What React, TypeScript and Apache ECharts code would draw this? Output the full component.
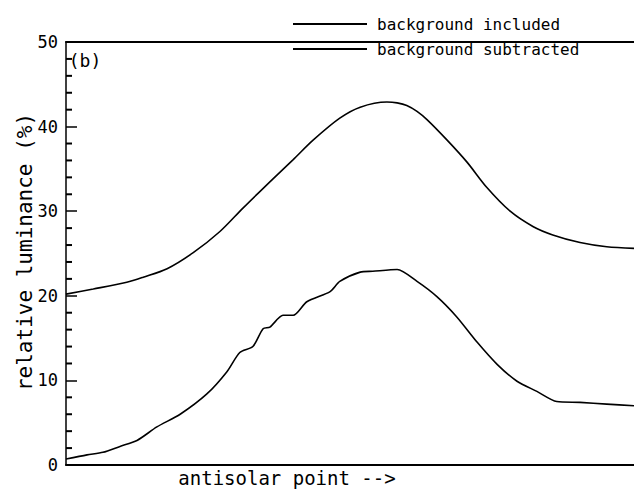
import React, { useEffect, useRef } from "react";
import * as echarts from "echarts";

// position along the scan (arbitrary units, 0 = left edge, 100 = right edge)
const includedX = [0, 4.8, 10.7, 13.6, 17.8, 22.4, 27.1, 31.2, 36.4, 40.0, 43.5, 48.2, 51.8, 56.5, 58.3, 60.0, 61.8, 63.6, 67.1, 70.6, 74.1, 78.2, 82.2, 85.7, 90.5, 95.2, 100];
const includedY = [20.2, 20.8, 21.6, 22.2, 23.2, 25.1, 27.6, 30.4, 33.8, 36.1, 38.4, 41.0, 42.3, 42.9, 42.8, 42.5, 41.8, 40.8, 38.4, 35.8, 32.8, 30.0, 28.2, 27.2, 26.3, 25.8, 25.6];

const subtractedX = [0, 3.7, 6.5, 9.5, 12.5, 16.0, 20.1, 24.8, 28.3, 30.6, 32.9, 34.7, 35.9, 38.2, 40.0, 42.4, 46.5, 48.2, 51.8, 54.0, 58.3, 61.8, 65.3, 68.8, 72.4, 75.9, 79.4, 82.9, 86.4, 90.5, 95.2, 100];
const subtractedY = [0.7, 1.2, 1.5, 2.2, 2.9, 4.5, 6.0, 8.4, 11.0, 13.3, 14.0, 16.1, 16.3, 17.7, 17.7, 19.3, 20.5, 21.7, 22.8, 22.9, 23.1, 21.7, 19.9, 17.5, 14.5, 11.9, 9.9, 8.7, 7.5, 7.4, 7.2, 7.0];

const seriesNames = ["background included", "background subtracted"];
const yTicks = [0, 10, 20, 30, 40, 50];
const yMinorTicks = [2, 4, 6, 8, 12, 14, 16, 18, 22, 24, 26, 28, 32, 34, 36, 38, 42, 44, 46, 48];
const xTitle = "antisolar point -->";
const yTitle = "relative luminance (%)";
const panelLabel = "(b)";

const MONO = "'DejaVu Sans Mono', 'Liberation Mono', monospace";

export default function App() {
  const ref = useRef<HTMLDivElement>(null);
  useEffect(() => {
    if (!ref.current) return;
    const chart = echarts.init(ref.current, null, { renderer: "svg" });
    const pairs = (xs: number[], ys: number[]) => xs.map((x, i) => [x, ys[i]]);
    const yMin = yTicks[0];
    const yMax = yTicks[yTicks.length - 1];
    chart.setOption({
      animation: false,
      backgroundColor: "#ffffff",
      grid: { left: 66, right: 0, top: 42, bottom: 24 },
      legend: {
        left: 288,
        top: 11,
        orient: "vertical",
        icon: "rect",
        itemWidth: 74,
        itemHeight: 2,
        itemGap: 9,
        selectedMode: false,
        data: seriesNames,
        textStyle: { fontFamily: MONO, fontSize: 16, color: "#000", lineHeight: 16, padding: [0, 0, 0, 5] },
      },
      xAxis: [
        {
          type: "value",
          min: 0,
          max: 100,
          position: "bottom",
          axisLine: { show: true, lineStyle: { color: "#000", width: 2 } },
          axisTick: { show: false },
          axisLabel: { show: false },
          splitLine: { show: false },
        },
        {
          type: "value",
          min: 0,
          max: 100,
          position: "top",
          axisLine: { show: true, lineStyle: { color: "#000", width: 2 } },
          axisTick: { show: false },
          axisLabel: { show: false },
          splitLine: { show: false },
        },
      ],
      yAxis: {
        type: "value",
        position: "left",
        min: yMin,
        max: yMax,
        interval: 10,
        axisLine: { show: true, lineStyle: { color: "#000", width: 1.5 } },
        axisTick: { show: true, inside: true, length: 11, lineStyle: { color: "#000", width: 1.5 } },
        axisLabel: { color: "#000", fontFamily: MONO, fontSize: 17, margin: 8 },
        splitLine: { show: false },
      },
      graphic: [
        {
          type: "text",
          x: 287,
          y: 478,
          style: { text: xTitle, fontFamily: MONO, fontSize: 19, fill: "#000", align: "center", verticalAlign: "middle" },
        },
        {
          type: "text",
          x: 25,
          y: 252,
          rotation: Math.PI / 2,
          style: { text: yTitle, fontFamily: MONO, fontSize: 21, fill: "#000", align: "center", verticalAlign: "middle" },
        },
        {
          type: "text",
          x: 85,
          y: 60,
          style: { text: panelLabel, fontFamily: MONO, fontSize: 18, fill: "#000", align: "center", verticalAlign: "middle" },
        },
      ],
      series: [
        {
          name: seriesNames[0],
          type: "line",
          data: pairs(includedX, includedY),
          showSymbol: false,
          smooth: 0.3,
          lineStyle: { color: "#000", width: 1.6 },
          itemStyle: { color: "#000" },
        },
        {
          name: seriesNames[1],
          type: "line",
          data: pairs(subtractedX, subtractedY),
          showSymbol: false,
          smooth: 0.25,
          lineStyle: { color: "#000", width: 1.6 },
          itemStyle: { color: "#000" },
        },
        {
          name: "minor ticks",
          type: "custom",
          silent: true,
          clip: false,
          z: 5,
          data: yMinorTicks.map((v) => [0, v]),
          encode: { x: 0, y: 1 },
          renderItem: (_params: any, api: any) => {
            const p = api.coord([api.value(0), api.value(1)]);
            return {
              type: "line",
              shape: { x1: p[0], y1: p[1], x2: p[0] + 6, y2: p[1] },
              style: { stroke: "#000", lineWidth: 2 },
            };
          },
        },
      ],
    });
    return () => chart.dispose();
  }, []);
  return (
    <div
      ref={ref}
      style={{ position: "fixed", left: 0, top: 0, width: 634, height: 489, background: "#fff" }}
    />
  );
}
